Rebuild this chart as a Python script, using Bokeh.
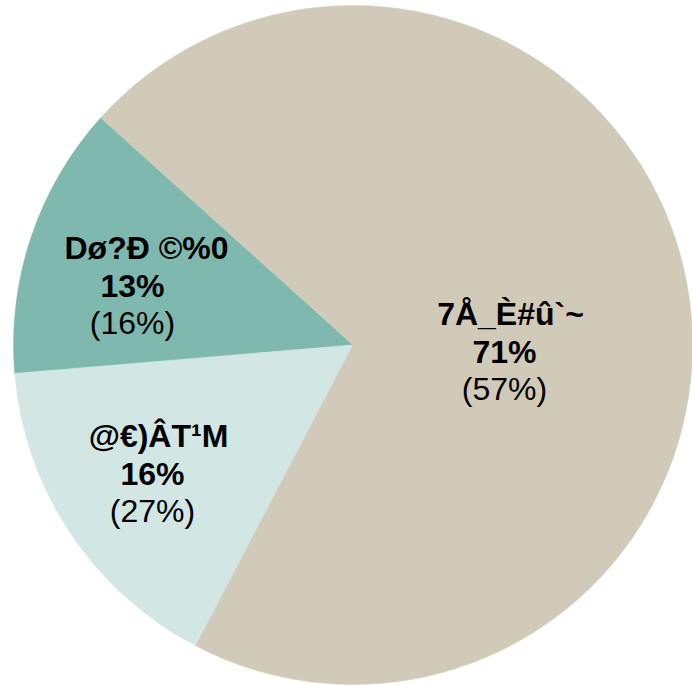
import math
from bokeh.plotting import figure
from bokeh.models import ColumnDataSource, Range1d
from bokeh.core.properties import value
from bokeh.embed import file_html
from bokeh.resources import INLINE

# ---- data ----
names = ["Dø?Đ ©%0", "@€)ÂT¹M", "7Å_È#û`~"]
shares = [13, 16, 71]          # bold percentages (slice sizes)
second = [16, 27, 57]          # percentages in parentheses
colors = ["#7FB8AF", "#D2E6E4", "#D2CAB9"]

# ---- layout ----
W, H = 692, 685
start_deg = 138.0
cx, cy = 352.5, H - 344.5
radius = 339.5
# label centres (figure pixel coords, y down) for the middle line
label_xy = [(132, 285.6), (152, 473.5), (504, 351.5)]
name_shift = [14, 6, 6]

total = float(sum(shares))
starts, ends = [], []
a = math.radians(start_deg)
for s in shares:
    starts.append(a)
    a += s / total * 2 * math.pi
    ends.append(a)

src = ColumnDataSource(dict(start=starts, end=ends, color=colors))

p = figure(width=W, height=H, output_backend="svg", toolbar_location=None,
           x_range=Range1d(0, W), y_range=Range1d(0, H),
           min_border=0, outline_line_color=None)
p.axis.visible = False
p.grid.visible = False
p.background_fill_color = "white"

p.wedge(x=cx, y=cy, radius=radius, start_angle="start", end_angle="end",
        fill_color="color", line_color="color", line_width=0.5, source=src)

lx = [xy[0] for xy in label_xy]
ly = [H - xy[1] for xy in label_xy]
lsrc = ColumnDataSource(dict(
    x=lx, y=ly, nx=[x + d for x, d in zip(lx, name_shift)], name=names,
    pct=[f"{v}%" for v in shares],
    sec=[f"({v}%)" for v in second]))

font = value("Liberation Sans")
common = dict(y="y", source=lsrc, text_align="center",
              text_baseline="middle", text_font=font,
              text_font_size="32px", text_color="#000000")
p.text(x="nx", text="name", y_offset=-38, text_font_style="bold", **common)
p.text(x="x", text="pct", y_offset=0, text_font_style="bold", **common)
p.text(x="x", text="sec", y_offset=37, text_font_style="normal", **common)

open("out.html", "w").write(file_html(p, INLINE))
